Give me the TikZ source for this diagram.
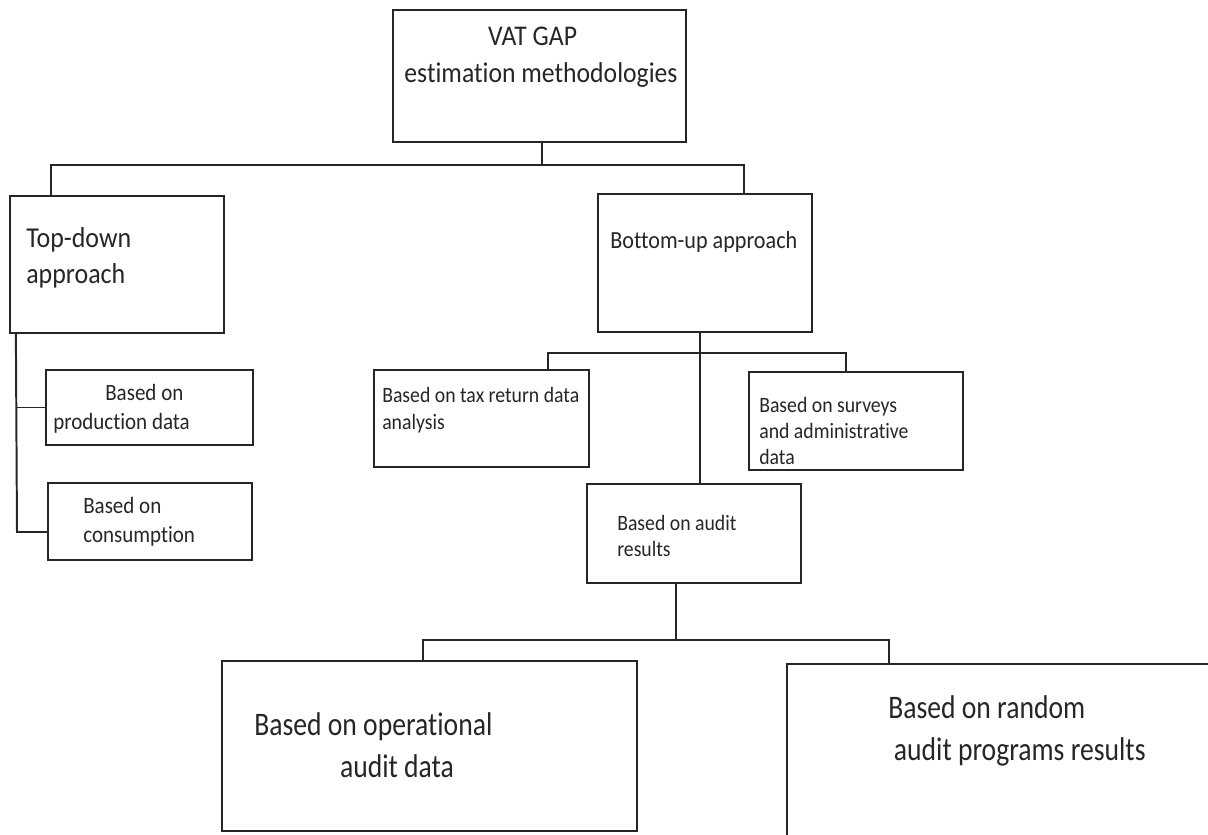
\documentclass[tikz,border=0pt]{standalone}
\usepackage{fontspec}
\setmainfont[FakeStretch=0.9, Ligatures=NoCommon]{Carlito}
\newfontfamily\narrowfont[FakeStretch=0.84, Ligatures=NoCommon]{Carlito}
\usetikzlibrary{positioning,calc}
\tikzset{sz/.style 2 args={minimum width=#1*0.025cm, minimum height=#2*0.025cm}}

\begin{document}
\begin{tikzpicture}[
  x=0.025cm, y=-0.025cm,
  box/.style={rectangle, draw=black!85, line width=1.6pt, inner sep=0pt},
  txt/.style={inner sep=0pt, align=left, anchor=west, text=black!85},
  conn/.style={draw=black!85, line width=1.4pt},
  hugefont/.style={font=\fontsize{20.3pt}{26pt}\selectfont},
  bigfont/.style={font=\fontsize{20.5pt}{25.5pt}\selectfont},
  midfont/.style={font=\fontsize{17.5pt}{21pt}\selectfont},
  leaffont/.style={font=\fontsize{16.6pt}{20.5pt}\selectfont},
  smallfont/.style={font=\fontsize{15.6pt}{18.8pt}\selectfont},
  wideleaf/.style={font=\narrowfont\fontsize{23.4pt}{29.5pt}\selectfont}
]
\useasboundingbox (0,0) rectangle (1208,834);
\clip (0,0) rectangle (1208,834);

% boxes
\node[box, sz={293}{132}] (vat)  at (539.5,76)    {};
\node[box, sz={214}{137}] (td)   at (117,264.5)   {};
\node[box, sz={214}{138}] (bu)   at (705,263)     {};
\node[box, sz={207}{75}]  (prod) at (149.5,407.5) {};
\node[box, sz={204}{77}]  (cons) at (150,521.5)   {};
\node[box, sz={215}{97}]  (tax)  at (481.5,418.5) {};
\node[box, sz={214}{98}]  (surv) at (856,421)     {};
\node[box, sz={214}{99}]  (aud)  at (694,533.5)   {};
\node[box, sz={415}{170}] (oper) at (429.5,746)   {};
\node[box, sz={438}{177}] (rand) at (1006,752.5)  {};

% texts
\node[txt, hugefont, align=center, anchor=center] (vatlbl) at (541,57)
  {VAT GAP\hspace*{12pt}\\estimation methodologies};
\node[txt, bigfont]   (tdlbl)   at (26,258)  {Top-down\\approach};
\node[txt, midfont]   (bulbl)   at (610,242) {Bottom-up approach};
\node[txt, leaffont]  (prodlbl) at (53,409)  {\hspace*{37pt}Based on\\production data};
\node[txt, leaffont]  (conslbl) at (83,522)  {Based on\\consumption};
\node[txt, smallfont] (taxlbl)  at (382,410) {Based on tax return data\\analysis};
\node[txt, smallfont] (survlbl) at (759,431) {Based on surveys\\and administrative\\data};
\node[txt, smallfont] (audlbl)  at (617,536) {Based on audit\\results};
\node[txt, wideleaf]  (operlbl) at (254,745) {Based on operational\\\hspace*{61pt}audit data};
\node[txt, wideleaf]  (randlbl) at (888,731) {Based on random\\\hspace*{4pt}audit programs results};

% joints
\coordinate (j1) at (542,165);
\coordinate (j2) at (700,353);
\coordinate (j3) at (676,640);
\coordinate (tdspine) at (17,532);

% connectors
\draw[conn] (vat.south -| j1) -- (j1);
\draw[conn] ($(td.north west)+(42,0)$) |- (j1) -| ($(bu.north west)+(147,0)$);
\draw[conn] ($(td.south west)+(7,0)$) -- (tdspine) -- (cons.west |- tdspine);
\draw[conn] (prod.west -| tdspine) -- (prod.west);
\draw[conn] (bu.south -| j2) -- (aud.north -| j2);
\draw[conn] ($(tax.north west)+(175,0)$) |- (j2) -| ($(surv.north west)+(98,0)$);
\draw[conn] (aud.south -| j3) -- (j3);
\draw[conn] ($(oper.north west)+(202,0)$) |- (j3) -| ($(rand.north west)+(103,0)$);
\end{tikzpicture}
\end{document}
